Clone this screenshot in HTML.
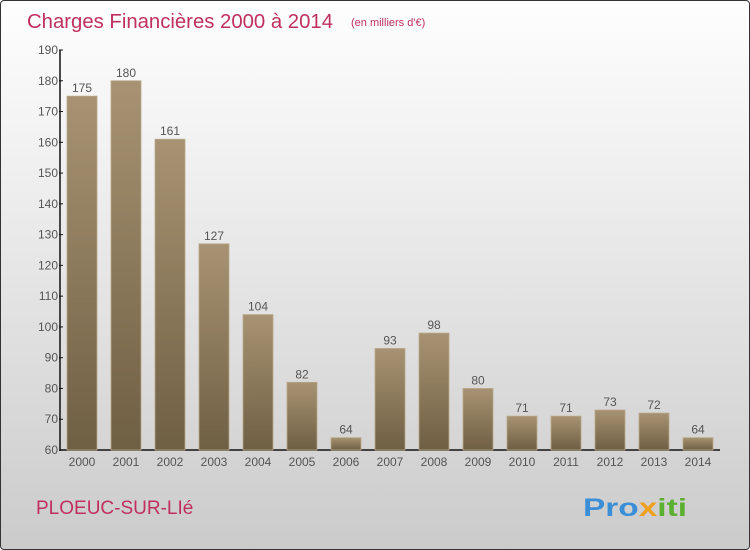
<!DOCTYPE html>
<html><head><meta charset="utf-8"><style>
html,body{margin:0;padding:0}
body{width:750px;height:550px;overflow:hidden;font-family:"Liberation Sans",sans-serif}
#wrap{position:absolute;left:0;top:0;width:748px;height:548px;border:1px solid #333;border-radius:4px;background:linear-gradient(#fefefe 0%,#f0f0f0 30%,#d8d8d8 75%,#cbcbcb 100%)}
</style></head><body>
<div id="wrap">
<svg id="chart" width="750" height="550" style="position:absolute;left:-1px;top:-1px">
<defs>
<linearGradient id="bg" x1="0" y1="0" x2="0" y2="1"><stop offset="0" stop-color="#a79373"/><stop offset="1" stop-color="#6f5f43"/></linearGradient>
</defs>
<text x="27" y="28" font-size="20" fill="#c0305f" textLength="306" lengthAdjust="spacingAndGlyphs">Charges Financières 2000 à 2014</text>
<text x="351" y="26" font-size="11" fill="#c0305f">(en milliers d'€)</text>
<text x="36" y="514" font-size="19" fill="#c0305f">PLOEUC-SUR-LIé</text>
<text x="583" y="516" font-size="25" font-weight="bold" textLength="104" lengthAdjust="spacingAndGlyphs"><tspan fill="#3b8fd6">Pro</tspan><tspan fill="#f0a020">x</tspan><tspan fill="#5cb030">iti</tspan></text>
<g id="axes"></g>
<g id="bars"></g>
</svg>
</div>
<script>
const categories=["2000","2001","2002","2003","2004","2005","2006","2007","2008","2009","2010","2011","2012","2013","2014"];
const values=[175,180,161,127,104,82,64,93,98,80,71,71,73,72,64];
const yTicks=[60,70,80,90,100,110,120,130,140,150,160,170,180,190];
const NS="http://www.w3.org/2000/svg";
const yMin=60,yMax=190,y0=450,y1=50,x0=60;
function y(v){return y0-(v-yMin)/(yMax-yMin)*(y0-y1);}
function xc(i){return 82+i*44;}
function mk(tag,attrs,parent,txt){const e=document.createElementNS(NS,tag);for(const k in attrs)e.setAttribute(k,attrs[k]);if(txt!==undefined)e.textContent=txt;parent.appendChild(e);return e;}
const ax=document.getElementById('axes'),bars=document.getElementById('bars');
let l=mk('line',{x1:x0,y1:y1,x2:x0,y2:y0+1,stroke:'#111','stroke-width':1.5},ax);


l=mk('line',{x1:x0,y1:y0,x2:720,y2:y0,stroke:'#111','stroke-width':1.5},ax);


yTicks.forEach(t=>{
 const tk=mk('line',{x1:x0-1,y1:y(t),x2:x0+3,y2:y(t),stroke:'#111'},ax);
 
 
 const tx=mk('text',{x:x0-2,y:y(t)+4,'font-size':12,fill:'#555','text-anchor':'end'},ax,String(t));
 
 
});
categories.forEach((c,i)=>{
 const v=values[i];
 const r=mk('rect',{x:xc(i)-15,y:y(v),width:30,height:y0-y(v),fill:'url(#bg)',stroke:'#b8a887','stroke-width':0.8},bars);
 
 
 const vl=mk('text',{x:xc(i),y:y(v)-4,'font-size':12,fill:'#555','text-anchor':'middle'},bars,String(v));
 
 
 const xl=mk('text',{x:xc(i),y:466,'font-size':12,fill:'#555','text-anchor':'middle'},ax,c);
 
 
});
</script>
</body></html>
